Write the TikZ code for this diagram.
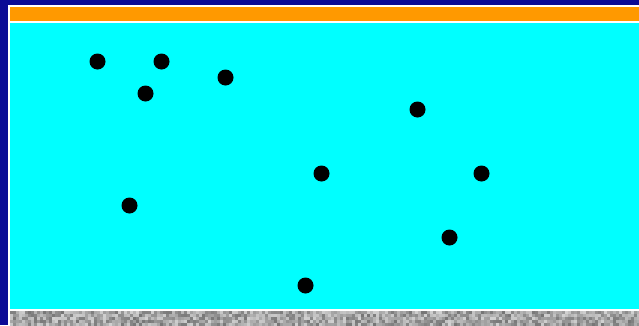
\documentclass[tikz,border=0pt]{standalone}
\begin{document}
\begin{tikzpicture}[x=1pt,y=-1pt,
  dot/.style={fill=black,draw=none}]
\definecolor{bgblue}{RGB}{10,10,150}
\definecolor{barorange}{RGB}{255,153,0}
\definecolor{water}{RGB}{0,255,255}
\useasboundingbox (0,0) rectangle (639,325);
\fill[bgblue] (0,0) rectangle (639,325);
\fill[white] (8,5) rectangle (639,325);
\fill[barorange] (10,7) rectangle (639,20.7);
\fill[water] (10,22.5) rectangle (639,308.5);
% noise strip
\pgfmathsetseed{7}
\foreach \i in {0,...,209}{
  \foreach \j in {0,...,4}{
    \pgfmathsetmacro{\g}{18+36*rnd}
    \fill[black!\g!white] ({10+3*\i},{310.5+3*\j}) rectangle ++(3.05,3.05);
  }
}
\foreach \p [count=\k] in {(97.5,61.5),(161.5,61.5),(145.5,93.5),(225.5,77.5),(417.5,109.5),(321.5,173.5),(481.5,173.5),(129.5,205.5),(449.5,237.5),(305.5,285.5)}{
  \node[dot,circle,minimum size=16pt,inner sep=0pt] (d\k) at \p {};
}
\end{tikzpicture}
\end{document}
